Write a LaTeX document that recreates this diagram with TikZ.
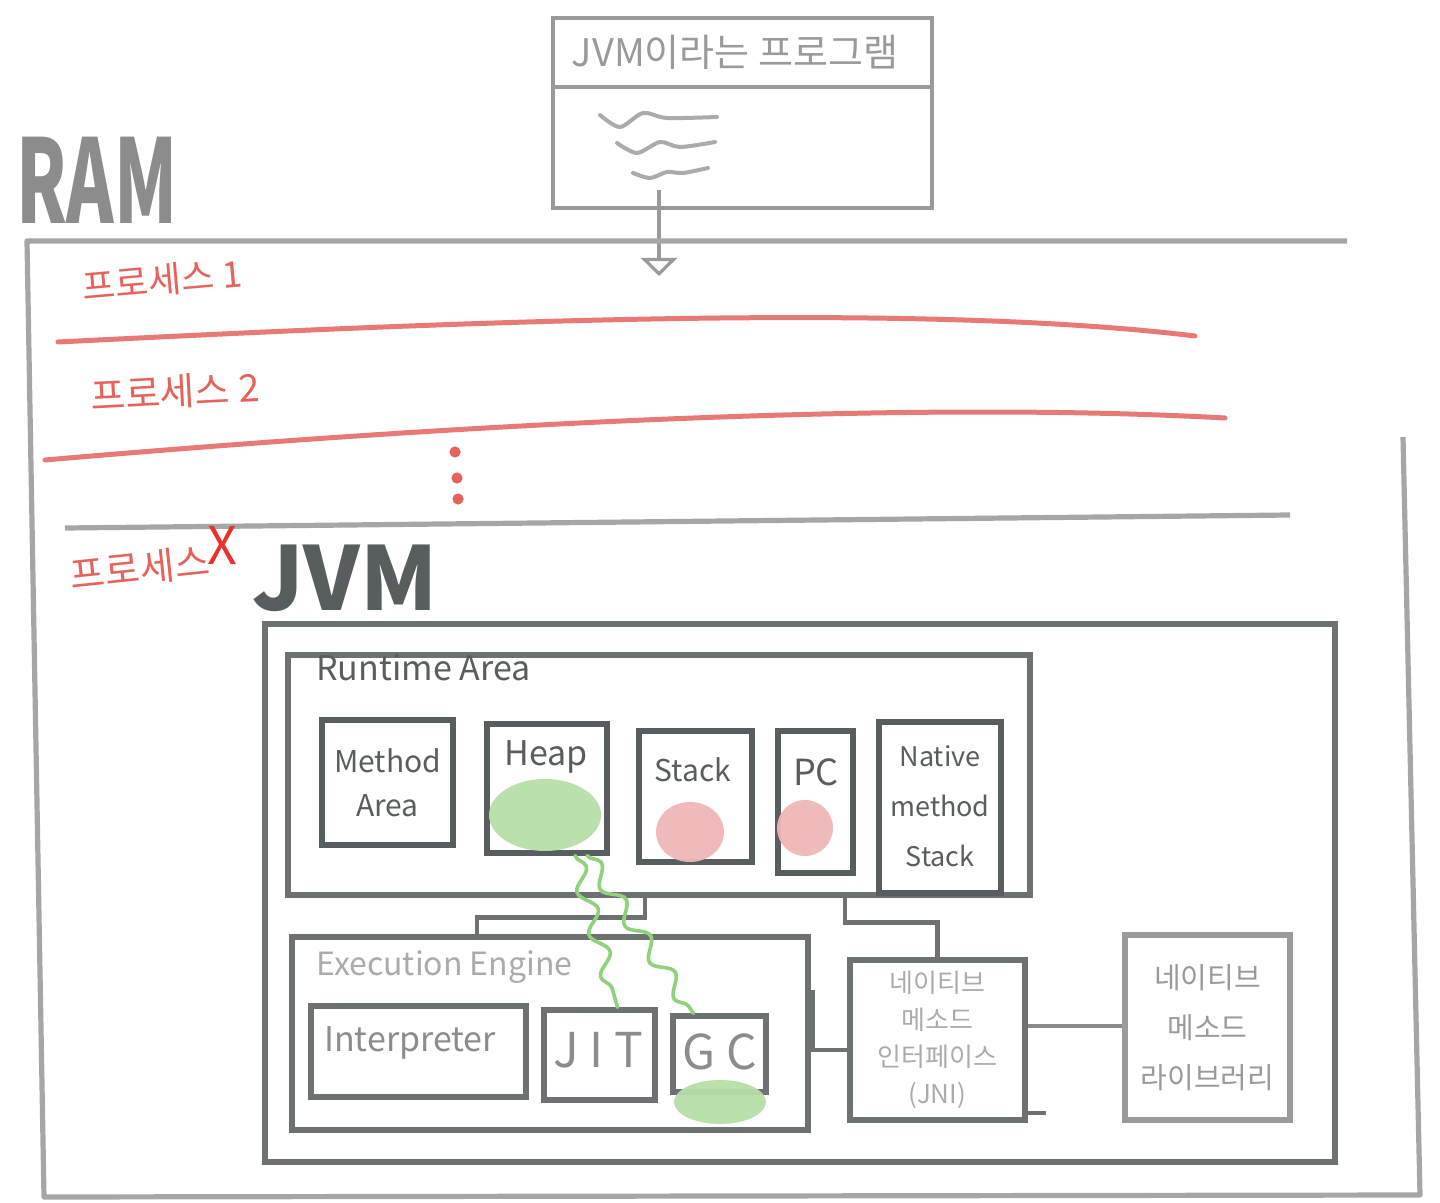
\documentclass[tikz,border=0pt]{standalone}
\usepackage{fontspec}
\setmainfont{Noto Sans CJK KR}
\usetikzlibrary{arrows.meta,decorations.pathmorphing,calc}
\definecolor{ramgray}{HTML}{A6A6A6}
\definecolor{proggray}{HTML}{9A9A9A}
\definecolor{jvmgray}{HTML}{6E7171}
\definecolor{darkgray2}{HTML}{585D5D}
\definecolor{midgray}{HTML}{8C8C8C}
\definecolor{lightgray2}{HTML}{ABABAB}
\definecolor{procred}{HTML}{E8625C}
\definecolor{linered}{HTML}{E87A76}
\definecolor{xred}{HTML}{E8322C}
\definecolor{blobgreen}{HTML}{B6DEA8}
\definecolor{squiggle}{HTML}{8FD27C}
\definecolor{blobpink}{HTML}{F0B6B6}
\begin{document}
\begin{tikzpicture}[x=0.5pt,y=-0.5pt,
  progbox/.style={draw=proggray, line width=2pt, inner sep=0pt},
  jvmbox/.style={draw=jvmgray, line width=2.6pt, inner sep=0pt},
  innerbox/.style={draw=darkgray2, line width=2.6pt, inner sep=0pt},
  libbox/.style={draw=proggray, line width=2.6pt, inner sep=0pt},
  conn/.style={draw=jvmgray, line width=2.4pt},
  gline/.style={draw=squiggle, line width=1.8pt, line cap=round, decorate,
    decoration={snake, amplitude=4pt, segment length=22pt}},
  redline/.style={draw=linered, line width=2.5pt, line cap=round},
  lbl/.style={inner sep=0pt, align=center}
]
\useasboundingbox (0,0) rectangle (1440,1203);

% ---------- program box ----------
\node[progbox, minimum width=189.5pt, minimum height=95pt] (prog) at (742.5,113) {};
\draw[draw=proggray, line width=2pt] (prog.west |- 0,87) -- (prog.east |- 0,87);
\node[lbl, text=proggray, font=\fontsize{19}{23}\selectfont] (ptitle) at (735,52) {JVM이라는 프로그램};
\draw[draw=lightgray2, line width=2pt, line cap=round] plot[smooth] coordinates {(600,115) (620,127) (643,113) (667,118) (717,117)};
\draw[draw=lightgray2, line width=2pt, line cap=round] plot[smooth] coordinates {(617,143) (637,153) (660,142) (680,147) (715,142)};
\draw[draw=lightgray2, line width=2pt, line cap=round] plot[smooth] coordinates {(633,173) (650,178) (667,172) (683,173) (708,168)};
\coordinate (arrowend) at (659,276);
\draw[draw=proggray, line width=1.8pt, -{Triangle[open, width=18pt, length=9pt, line width=1.6pt]}]
  ([xshift=-41.75pt, yshift=10pt]prog.south) -- (arrowend);

% ---------- RAM ----------
\node[lbl, text=midgray, xscale=0.62, font=\fontsize{58}{58}\selectfont\bfseries] (ram) at (97,180) {RAM};
\draw[draw=ramgray, line width=2.6pt, line join=round] (1347,241) -- (27,241) -- (44,1197) -- (1420,1195) -- (1403,437);

% process separators
\draw[redline] (58,342) .. controls (400,325) and (900,300) .. (1195,336);
\draw[redline] (45,460) .. controls (450,425) and (900,400) .. (1225,418);
\draw[draw=ramgray, line width=2.6pt] (65,528) -- (1290,515);
\fill[procred] (455,452) circle [radius=2.8pt];
\fill[procred] (457,478) circle [radius=2.8pt];
\fill[procred] (458,499) circle [radius=2.8pt];

\node[lbl, text=procred, rotate=5, font=\fontsize{18}{22}\selectfont] (p1) at (162,280) {프로세스 1};
\node[lbl, text=procred, rotate=3, font=\fontsize{19}{22}\selectfont] (p2) at (175,392) {프로세스 2};
\node[lbl, text=procred, rotate=6, font=\fontsize{19}{22}\selectfont] (px) at (140,568) {프로세스};
\node[lbl, text=xred, font=\fontsize{26}{26}\selectfont] (pxx) at (222,545) {X};

% ---------- JVM ----------
\node[lbl, text=darkgray2, font=\fontsize{44}{44}\selectfont\bfseries] (jvmtitle) at (345,578) {JVM};
\node[jvmbox, minimum width=535pt, minimum height=269pt] (jvm) at (800,893) {};

% Runtime area
\node[jvmbox, minimum width=371pt, minimum height=120pt] (rt) at (659,775) {};
\node[lbl, text=darkgray2, anchor=west, font=\fontsize{17}{20}\selectfont] (rttitle) at (316,668) {Runtime Area};

\node[innerbox, minimum width=65.5pt, minimum height=62.5pt] (method) at (387.5,782.5) {};
\node[innerbox, minimum width=60pt, minimum height=64.5pt] (heap) at (547,788.5) {};
\node[innerbox, minimum width=56.5pt, minimum height=65.5pt] (stack) at (695.5,796.5) {};
\node[innerbox, minimum width=37.5pt, minimum height=71pt] (pc) at (815.5,802) {};
\node[innerbox, minimum width=61pt, minimum height=85.5pt] (native) at (940,807.5) {};

\node[lbl, text=darkgray2, font=\fontsize{15}{22}\selectfont] (methodtxt) at (method.center) {Method\\Area};
\node[lbl, text=darkgray2, font=\fontsize{17}{20}\selectfont] (heaptxt) at (546,757) {Heap};
\node[lbl, text=darkgray2, font=\fontsize{15}{20}\selectfont] (stacktxt) at (693,770) {Stack};
\node[lbl, text=darkgray2, font=\fontsize{18}{20}\selectfont] (pctxt) at (816,772) {PC};
\node[lbl, text=darkgray2, font=\fontsize{13.5}{25}\selectfont] (nativetxt) at (940,806) {Native\\method\\Stack};

% Execution engine
\node[jvmbox, minimum width=258pt, minimum height=96.5pt] (ee) at (550,1033.5) {};
\node[lbl, text=lightgray2, anchor=west, font=\fontsize{16}{20}\selectfont] (eetitle) at (316,967) {Execution Engine};
\draw[draw=jvmgray, line width=2pt] ([xshift=1pt]ee.east |- 0,990) -- ([xshift=1pt]ee.east |- 0,1048);

\node[innerbox, draw=jvmgray, minimum width=107.5pt, minimum height=45.5pt] (interp) at (418.5,1051.5) {};
\node[innerbox, draw=jvmgray, minimum width=55.5pt, minimum height=45pt] (jit) at (599.5,1055) {};
\node[innerbox, draw=jvmgray, minimum width=46.5pt, minimum height=38pt] (gc) at (719.5,1054) {};
\node[lbl, text=midgray, font=\fontsize{17}{20}\selectfont] (interptxt) at (410,1043) {Interpreter};
\node[lbl, text=midgray, font=\fontsize{24}{28}\selectfont] (jittxt) at (598,1050) {J I T};
\node[lbl, text=midgray, font=\fontsize{24}{28}\selectfont] (gctxt) at (720,1052) {G C};

% JNI and library
\node[jvmbox, minimum width=87.5pt, minimum height=80pt] (jni) at (937.5,1040) {};
\node[lbl, text=lightgray2, font=\fontsize{13}{18.5}\selectfont] (jnitxt) at (jni.center) {네이티브\\메소드\\인터페이스\\(JNI)};
\draw[draw=jvmgray, line width=2pt] ([yshift=5pt]jni.south east) -- ++(18,0);
\node[libbox, minimum width=82.5pt, minimum height=92.5pt] (lib) at (1207.5,1027.5) {};
\node[lbl, text=proggray, font=\fontsize{14.5}{25}\selectfont] (libtxt) at (lib.center) {네이티브\\메소드\\라이브러리};

% connectors
\draw[conn] ([xshift=-7pt]rt.south) -- ++(0,20) -| ([xshift=-36.5pt]ee.north);
\draw[conn] ([xshift=93pt]rt.south) -- ++(0,25) -| (jni.north);
\draw[conn] ([yshift=-5pt]jni.west -| ee.east) -- ([yshift=-5pt]jni.west);
\draw[conn, draw=midgray] ([yshift=7pt]jni.east) -- ([yshift=7pt]jni.east -| lib.west);

% blobs
\fill[blobgreen, opacity=0.95] (545,815) ellipse [x radius=28pt, y radius=18pt];
\fill[blobpink, opacity=0.95] (690,832) ellipse [x radius=17pt, y radius=15pt];
\fill[blobpink, opacity=0.95] (805,828) ellipse [x radius=14pt, y radius=14pt];
\fill[blobgreen, opacity=0.95] (720,1102) ellipse [x radius=23pt, y radius=11pt];

% heap -> JIT / GC squiggles
\draw[gline] ([xshift=14pt]heap.south) -- ([xshift=9pt]jit.north);
\draw[gline] ([xshift=20pt]heap.south) -- ([xshift=-13pt]gc.north);
\end{tikzpicture}
\end{document}
